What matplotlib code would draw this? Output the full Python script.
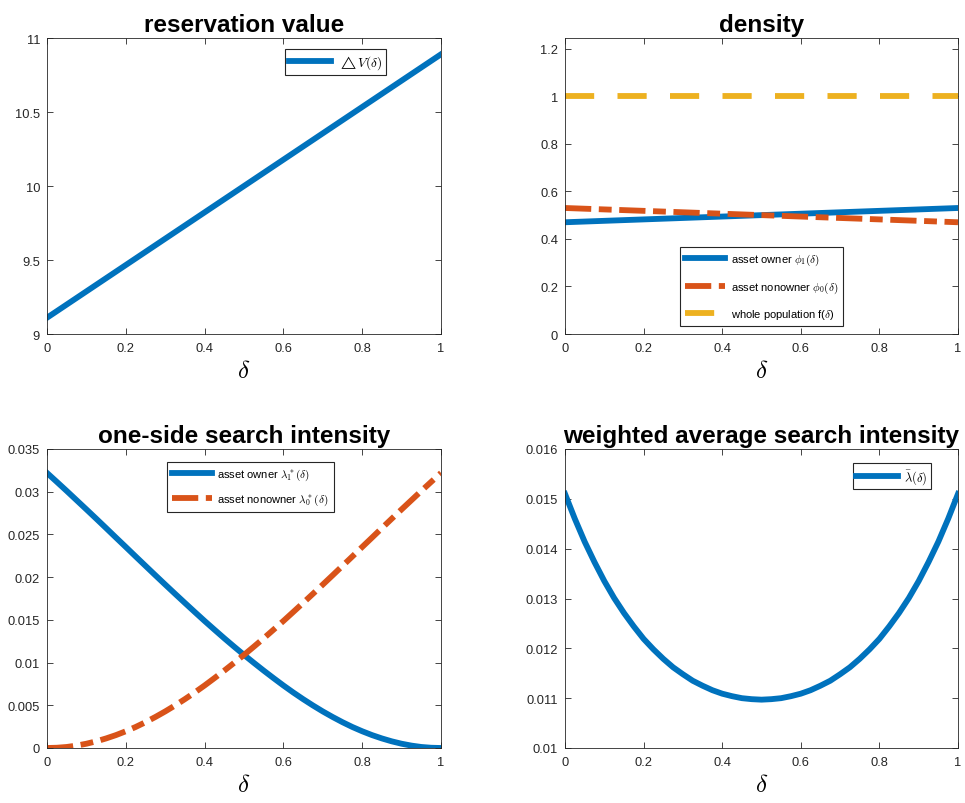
import matplotlib
matplotlib.use("Agg")
import matplotlib.pyplot as plt
from matplotlib.ticker import FormatStrFormatter

plt.rcParams["font.family"] = ["Liberation Sans", "DejaVu Sans"]
plt.rcParams["mathtext.fontset"] = "cm"

BLUE = "#0072BD"; ORANGE = "#D95319"; YELLOW = "#EDB120"; INK = "#262626"

# reservation value
delta_rv = [0.0, 0.25, 0.5, 0.75, 1.0]
dV = [9.11, 9.555, 10.0, 10.445, 10.89]

# density
delta_den = [0.0, 0.5, 1.0]
phi1 = [0.47, 0.50, 0.53]
phi0 = [0.53, 0.50, 0.47]
f_pop = [1.0, 1.0, 1.0]

# search intensity (read at 0.025 steps)
delta_si = [0.000, 0.025, 0.050, 0.075, 0.100, 0.125, 0.150, 0.175, 0.200, 0.225,
            0.250, 0.275, 0.300, 0.325, 0.350, 0.375, 0.400, 0.425, 0.450, 0.475,
            0.500, 0.525, 0.550, 0.575, 0.600, 0.625, 0.650, 0.675, 0.700, 0.725,
            0.750, 0.775, 0.800, 0.825, 0.850, 0.875, 0.900, 0.925, 0.950, 0.975, 1.000]
lam1 = [0.03220, 0.03115, 0.03009, 0.02901, 0.02793, 0.02684, 0.02574, 0.02463, 0.02353, 0.02242,
        0.02132, 0.02022, 0.01913, 0.01805, 0.01698, 0.01592, 0.01487, 0.01385, 0.01284, 0.01186,
        0.01090, 0.00997, 0.00906, 0.00818, 0.00732, 0.00650, 0.00572, 0.00498, 0.00428, 0.00363,
        0.00302, 0.00246, 0.00196, 0.00151, 0.00112, 0.00078, 0.00050, 0.00028, 0.00012, 0.00003, 0.00000]
lam0 = [0.00000, 0.00003, 0.00012, 0.00028, 0.00050, 0.00078, 0.00112, 0.00151, 0.00196, 0.00246,
        0.00302, 0.00363, 0.00428, 0.00498, 0.00572, 0.00650, 0.00732, 0.00818, 0.00906, 0.00997,
        0.01090, 0.01186, 0.01284, 0.01385, 0.01487, 0.01592, 0.01698, 0.01805, 0.01913, 0.02022,
        0.02132, 0.02242, 0.02353, 0.02463, 0.02574, 0.02684, 0.02793, 0.02901, 0.03009, 0.03115, 0.03220]
lam_bar = [0.01510, 0.01460, 0.01414, 0.01373, 0.01335, 0.01301, 0.01271, 0.01244, 0.01219, 0.01198,
           0.01179, 0.01162, 0.01148, 0.01135, 0.01125, 0.01116, 0.01109, 0.01104, 0.01100, 0.01098,
           0.01097, 0.01098, 0.01100, 0.01104, 0.01109, 0.01116, 0.01125, 0.01135, 0.01148, 0.01162,
           0.01179, 0.01198, 0.01219, 0.01244, 0.01271, 0.01301, 0.01335, 0.01373, 0.01414, 0.01460, 0.01510]

xticks = [0, 0.2, 0.4, 0.6, 0.8, 1]
LW = 4.2
DASHDOT = (4.5, 1.3, 2.2, 1.3)
DASHED = (5.0, 4.0)

fig = plt.figure(figsize=(9.65, 8.04), dpi=100)
W, H = 965, 804
def axes_px(x0, y0, x1, y1):
    return fig.add_axes([x0 / W, 1 - y1 / H, (x1 - x0) / W, (y1 - y0) / H])

def style(ax, ylim, yticks, title):
    ax.set_xlim(0, 1); ax.set_ylim(*ylim)
    ax.set_xticks(xticks); ax.set_yticks(yticks)
    ax.xaxis.set_major_formatter(FormatStrFormatter("%g"))
    ax.yaxis.set_major_formatter(FormatStrFormatter("%g"))
    ax.tick_params(direction="in", length=4, width=0.6, color=INK, labelcolor=INK,
                   labelsize=9.3, top=True, right=True)
    ax.tick_params(axis="x", pad=6); ax.tick_params(axis="y", pad=5)
    for s in ax.spines.values():
        s.set_color(INK); s.set_linewidth(0.6)
    ax.set_title(title, fontsize=17.5, fontweight="bold", pad=5)
    ax.set_xlabel(r"$\delta$", fontsize=18, labelpad=3)

def legend(ax, **kw):
    opts = dict(fancybox=False, framealpha=1, edgecolor=INK, handlelength=3.6,
                handletextpad=0.5, borderpad=0.45, borderaxespad=0)
    opts.update(kw)
    lg = ax.legend(**opts)
    lg.get_frame().set_linewidth(0.8)
    return lg

ax1 = axes_px(47, 39, 441, 335)
ax1.plot(delta_rv, dV, color=BLUE, lw=LW, label=r"$\triangle V(\delta)$")
style(ax1, (9, 11), [9, 9.5, 10, 10.5, 11], "reservation value")
legend(ax1, loc="upper right", bbox_to_anchor=(0.86, 0.963), fontsize=9.5,
       handlelength=3.2, borderpad=0.3)

ax2 = axes_px(565, 39, 958, 335)
ax2.plot(delta_den, phi1, color=BLUE, lw=LW, label=r"asset owner $\phi_1(\delta)$")
ax2.plot(delta_den, phi0, color=ORANGE, lw=LW, dashes=DASHDOT, label=r"asset nonowner $\phi_0(\delta)$")
ax2.plot(delta_den, f_pop, color=YELLOW, lw=LW, dashes=DASHED, label=r"whole population f($\delta$)")
style(ax2, (0, 1.245), [0, 0.2, 0.4, 0.6, 0.8, 1, 1.2], "density")
legend(ax2, loc="lower center", bbox_to_anchor=(0.5, 0.027), fontsize=8, labelspacing=1.1)

ax3 = axes_px(47, 450, 441, 749)
ax3.plot(delta_si, lam1, color=BLUE, lw=LW, label=r"asset owner $\lambda^*_1(\delta)$")
ax3.plot(delta_si, lam0, color=ORANGE, lw=LW, dashes=DASHDOT, label=r"asset nonowner $\lambda^*_0(\delta)$")
style(ax3, (0, 0.035), [0, 0.005, 0.01, 0.015, 0.02, 0.025, 0.03, 0.035], "one-side search intensity")
legend(ax3, loc="upper center", bbox_to_anchor=(0.516, 0.957), fontsize=8, labelspacing=0.9)

ax4 = axes_px(565, 450, 958, 749)
ax4.plot(delta_si, lam_bar, color=BLUE, lw=LW, label=r"$\bar{\lambda}(\delta)$")
style(ax4, (0.01, 0.016), [0.01, 0.011, 0.012, 0.013, 0.014, 0.015, 0.016],
      "weighted average search intensity")
legend(ax4, loc="upper right", bbox_to_anchor=(0.931, 0.953), fontsize=9,
       handlelength=3.3, borderpad=0.3)

fig.savefig("out.png", dpi=100, facecolor="white")
